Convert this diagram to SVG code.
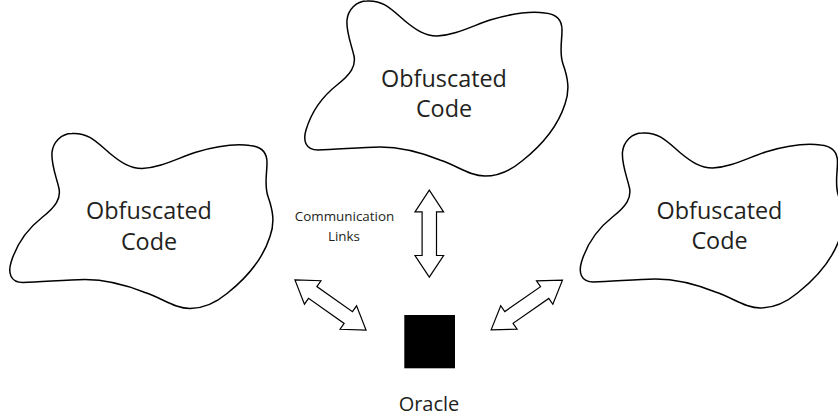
<svg xmlns="http://www.w3.org/2000/svg" xmlns:xlink="http://www.w3.org/1999/xlink" width="838" height="419" viewBox="0 0 838 419">
<style>
.cloud{fill:#fff;stroke:#000;stroke-width:1.5;stroke-linejoin:round}
.arrow{fill:#fff;stroke:#000;stroke-width:1.2;stroke-linejoin:miter}
.big{font-family:"Open Sans","Noto Sans",sans-serif;font-size:23.4px;fill:#231f20;text-anchor:middle}
.mid{font-family:"Open Sans","Noto Sans",sans-serif;font-size:20px;fill:#231f20;text-anchor:middle}
.small{font-family:"Open Sans","Noto Sans",sans-serif;font-size:13.4px;fill:#231f20;text-anchor:middle}
</style>
<defs>
<path id="cloudShape" d="M 367,1 C 384,0 392,10 405,21 C 416,30 425,36 437,36 C 455,35 470,27 490,20 C 510,14 530,11 545,13 C 556,14 562,20 562,30 C 562,42 559,52 563,64 C 568,78 570,90 565,104 C 558,126 541,146 522,161 C 510,171 497,176 485,176 C 470,176 458,166 440,160 C 420,152 400,147 380,147 C 360,147 335,150 318,150 C 305,150 303,140 306,130 C 312,110 323,96 337,85 C 351,74 356,66 354,56 C 351,43 346,32 347,20 C 348,10 356,1 367,1 Z"/>
<path id="dblArrow" d="M -43.5,0 L -21.8,-14.3 L -21.8,-7.2 L 21.8,-7.2 L 21.8,-14.3 L 43.5,0 L 21.8,14.3 L 21.8,7.2 L -21.8,7.2 L -21.8,14.3 Z"/>
</defs>
<rect width="838" height="419" fill="#fff"/>
<g id="cloud-top">
<use xlink:href="#cloudShape" href="#cloudShape" class="cloud"/>
<text class="big" x="444" y="86.5">Obfuscated</text>
<text class="big" x="444" y="117">Code</text>
</g>
<g id="cloud-left" transform="translate(-295,132.5)">
<use xlink:href="#cloudShape" href="#cloudShape" class="cloud"/>
<text class="big" x="444" y="86.5">Obfuscated</text>
<text class="big" x="444" y="117">Code</text>
</g>
<g id="cloud-right" transform="translate(275.5,132)">
<use xlink:href="#cloudShape" href="#cloudShape" class="cloud"/>
<text class="big" x="444" y="86.5">Obfuscated</text>
<text class="big" x="444" y="117">Code</text>
</g>
<g id="oracle">
<rect x="404.3" y="315" width="50.7" height="53.3" fill="#000"/>
<text class="mid" x="429" y="410.5">Oracle</text>
</g>
<g id="connectors">
<use xlink:href="#dblArrow" href="#dblArrow" class="arrow" transform="translate(429.3,233.7) rotate(90)"/>
<use xlink:href="#dblArrow" href="#dblArrow" class="arrow" transform="translate(330.5,305) rotate(35.2)"/>
<use xlink:href="#dblArrow" href="#dblArrow" class="arrow" transform="translate(526.8,305) rotate(-34.9)"/>
</g>
<g id="label-links">
<text class="small" x="344.5" y="221">Communication</text>
<text class="small" x="344" y="240.7">Links</text>
</g>
</svg>
